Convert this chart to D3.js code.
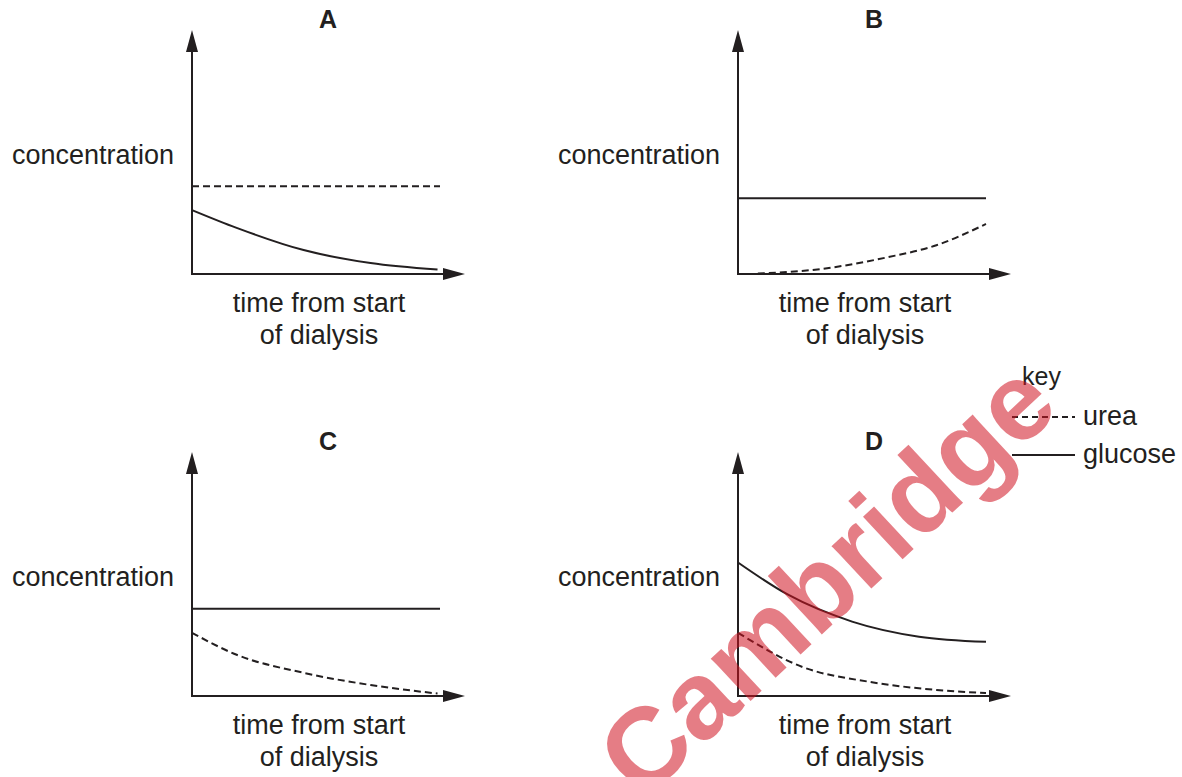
<!DOCTYPE html>
<html>
<head>
<meta charset="utf-8">
<script src="https://cdn.jsdelivr.net/npm/d3@7"></script>
<style>
  html, body { margin: 0; padding: 0; background: #fff; }
  svg { display: block; }
  text { font-family: "Liberation Sans", Arial, sans-serif; fill: #231f20; }
</style>
</head>
<body>
<svg id="chart" width="1182" height="777"></svg>
<script>
// ---- data (x = time units 0..10, y = concentration units 0..10) ----
const panels = ["A", "B", "C", "D"];
const yLabel = "concentration";
const xLabelLines = ["time from start", "of dialysis"];
const keyTitle = "key";
const seriesNames = ["urea", "glucose"];

// Panel A
const aUreaT = [0, 10];
const aUreaV = [3.6, 3.6];
const aGlucoseT = [0, 1.8, 4.5, 7.2, 9.9];
const aGlucoseV = [2.62, 1.89, 0.98, 0.45, 0.18];
// Panel B
const bUreaT = [0.8, 3.3, 6.0, 8.0, 10];
const bUreaV = [0.02, 0.2, 0.68, 1.18, 2.05];
const bGlucoseT = [0, 10];
const bGlucoseV = [3.1, 3.1];
// Panel C
const cUreaT = [0, 1.8, 4.5, 7.2, 9.9];
const cUreaV = [2.59, 1.69, 0.95, 0.45, 0.1];
const cGlucoseT = [0, 10];
const cGlucoseV = [3.58, 3.58];
// Panel D
const dUreaT = [0, 2.6, 5.3, 8.0, 10];
const dUreaV = [2.59, 1.19, 0.58, 0.25, 0.12];
const dGlucoseT = [0, 2.0, 4.6, 7.3, 10];
const dGlucoseV = [5.47, 4.16, 3.05, 2.43, 2.22];

const watermark = "Cambridge";

// ---- layout ----
const svg = d3.select("#chart");

const panelData = [
  { name: "A", ox: 192, oy: 274, urea: [aUreaT, aUreaV], glucose: [aGlucoseT, aGlucoseV] },
  { name: "B", ox: 738, oy: 274, urea: [bUreaT, bUreaV], glucose: [bGlucoseT, bGlucoseV] },
  { name: "C", ox: 192, oy: 696, urea: [cUreaT, cUreaV], glucose: [cGlucoseT, cGlucoseV] },
  { name: "D", ox: 738, oy: 696, urea: [dUreaT, dUreaV], glucose: [dGlucoseT, dGlucoseV] }
];

const plotW = 248, plotH = 244;
const ink = "#231f20";

function zip(pair) { return pair[0].map((t, i) => ({ t, v: pair[1][i] })); }

panelData.forEach(p => {
  const x = d3.scaleLinear().domain([0, 10]).range([p.ox, p.ox + plotW]);
  const y = d3.scaleLinear().domain([0, 10]).range([p.oy, p.oy - plotH]);
  const g = svg.append("g");

  const line = d3.line().x(d => x(d.t)).y(d => y(d.v)).curve(d3.curveMonotoneX);

  // axes
  const axTop = p.oy - plotH;
  const axRight = p.ox + 273;
  g.append("line").attr("x1", p.ox).attr("y1", p.oy + 1).attr("x2", p.ox).attr("y2", axTop + 14)
    .attr("stroke", ink).attr("stroke-width", 2);
  g.append("line").attr("x1", p.ox - 1).attr("y1", p.oy).attr("x2", axRight - 14).attr("y2", p.oy)
    .attr("stroke", ink).attr("stroke-width", 2);
  g.append("path")
    .attr("d", `M${p.ox},${axTop} L${p.ox - 6},${axTop + 22} L${p.ox + 6},${axTop + 22} Z`)
    .attr("fill", ink);
  g.append("path")
    .attr("d", `M${axRight},${p.oy} L${axRight - 22},${p.oy - 6} L${axRight - 22},${p.oy + 6} Z`)
    .attr("fill", ink);

  // series
  g.append("path").datum(zip(p.glucose)).attr("d", line)
    .attr("fill", "none").attr("stroke", ink).attr("stroke-width", 2);
  g.append("path").datum(zip(p.urea)).attr("d", line)
    .attr("fill", "none").attr("stroke", ink).attr("stroke-width", 2)
    .attr("stroke-dasharray", "7,4");

  // texts
  g.append("text").attr("x", p.ox + 136).attr("y", axTop - 2)
    .attr("text-anchor", "middle").attr("font-size", 25).attr("font-weight", "bold")
    .text(p.name);
  g.append("text").attr("x", p.ox - 180).attr("y", p.oy - 110)
    .attr("font-size", 27).text(yLabel);
  xLabelLines.forEach((s, i) => {
    g.append("text").attr("x", p.ox + 127).attr("y", p.oy + 38 + i * 32)
      .attr("text-anchor", "middle").attr("font-size", 27).text(s);
  });
});

// key
const key = svg.append("g");
key.append("text").attr("x", 1022).attr("y", 385).attr("font-size", 25).text(keyTitle);
key.append("line").attr("x1", 1012).attr("x2", 1075).attr("y1", 417).attr("y2", 417)
  .attr("stroke", ink).attr("stroke-width", 2).attr("stroke-dasharray", "6,4");
key.append("line").attr("x1", 1012).attr("x2", 1075).attr("y1", 455).attr("y2", 455)
  .attr("stroke", ink).attr("stroke-width", 2);
key.append("text").attr("x", 1083).attr("y", 425).attr("font-size", 27).text(seriesNames[0]);
key.append("text").attr("x", 1083).attr("y", 463).attr("font-size", 27).text(seriesNames[1]);

// watermark (cut by the bottom edge, as in the reference)
svg.append("text")
  .attr("transform", "translate(826,578) rotate(-43)")
  .attr("text-anchor", "middle")
  .attr("dominant-baseline", "central")
  .attr("font-size", 110).attr("font-weight", "bold")
  .style("fill", "rgb(208,18,32)").attr("fill-opacity", 0.55)
  .text(watermark);
</script>
</body>
</html>
